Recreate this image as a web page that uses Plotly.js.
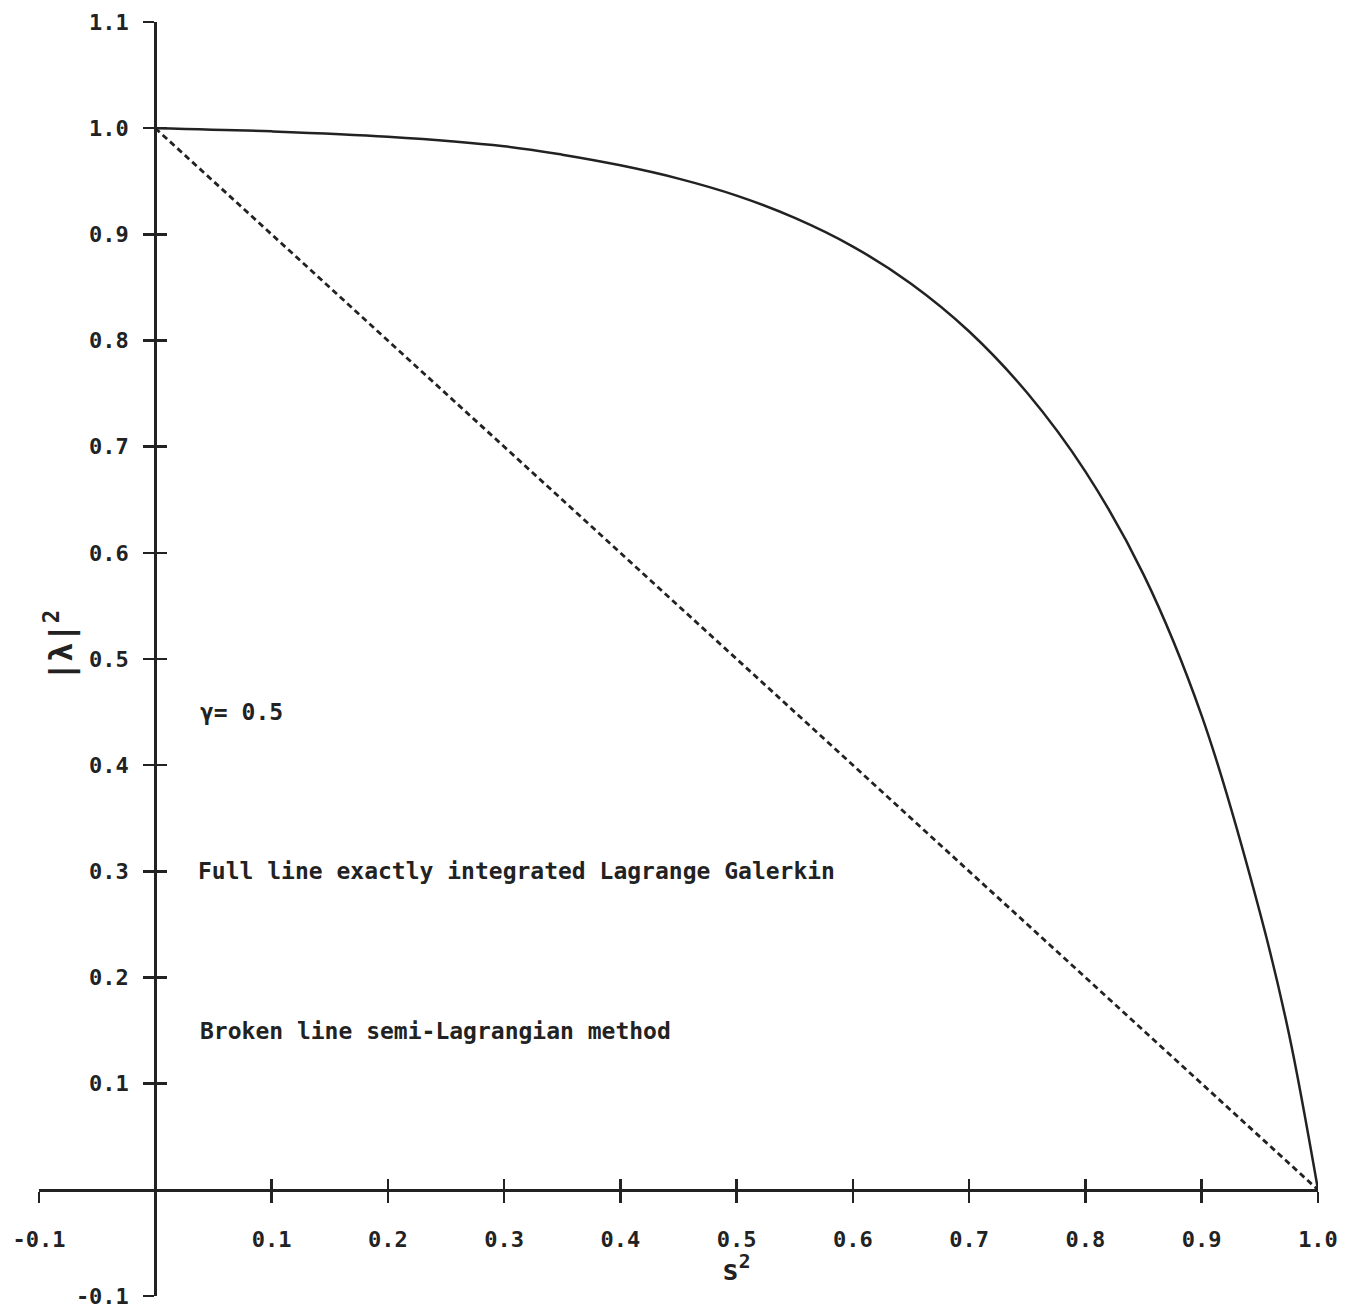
<!DOCTYPE html>
<html>
<head>
<meta charset="utf-8">
<script src="https://cdn.plot.ly/plotly-3.0.1.min.js"></script>
<style>html,body{margin:0;padding:0;background:#fff;}#chart{width:1359px;height:1309px;}</style>
</head>
<body>
<div id="chart"></div>
<script>
// Full line: exactly integrated Lagrange Galerkin
const s2Full  = [0, 0.1, 0.2, 0.3, 0.35, 0.4, 0.45, 0.5, 0.55, 0.6, 0.65, 0.7, 0.75, 0.8, 0.85, 0.9, 0.95, 0.975, 1.0];
const lamFull = [1.0, 0.997, 0.992, 0.983, 0.975, 0.965, 0.9525, 0.9365, 0.9155, 0.8885, 0.8535, 0.8085, 0.7505, 0.6765, 0.5795, 0.4465, 0.2615, 0.147, 0.0];
// Broken line: semi-Lagrangian method
const s2Broken  = [0, 1.0];
const lamBroken = [1.0, 0.0];
// Ticks
const xTickVals = [-0.1, 0.1, 0.2, 0.3, 0.4, 0.5, 0.6, 0.7, 0.8, 0.9, 1.0];
const xTickText = ["-0.1", "0.1", "0.2", "0.3", "0.4", "0.5", "0.6", "0.7", "0.8", "0.9", "1.0"];
const yTickVals = [-0.1, 0.1, 0.2, 0.3, 0.4, 0.5, 0.6, 0.7, 0.8, 0.9, 1.0, 1.1];
const yTickText = ["-0.1", "0.1", "0.2", "0.3", "0.4", "0.5", "0.6", "0.7", "0.8", "0.9", "1.0", "1.1"];
// Texts
const notes = [
  {text: "γ= 0.5", x: 0.037, y: 0.45},
  {text: "Full line exactly integrated Lagrange Galerkin", x: 0.035, y: 0.3},
  {text: "Broken line semi-Lagrangian method", x: 0.037, y: 0.15}
];

const ink = "#222";
const mono = {family: "DejaVu Sans Mono", size: 22, color: ink, weight: "bold"};
const monoNote = {family: "DejaVu Sans Mono", size: 23, color: ink, weight: "bold"};
const xRange = [-0.1, 1.0], yRange = [-0.1, 1.1];
const xPos = (0 - yRange[0]) / (yRange[1] - yRange[0]);
const yPos = (0 - xRange[0]) / (xRange[1] - xRange[0]);

const traces = [
  {x: s2Full, y: lamFull, mode: "lines", line: {color: ink, width: 2.5, shape: "spline", smoothing: 1}, showlegend: false, hoverinfo: "skip"},
  {x: s2Broken, y: lamBroken, mode: "lines", line: {color: ink, width: 2.8, dash: "6px,4px"}, showlegend: false, hoverinfo: "skip"},
  {x: s2Broken, y: lamBroken, xaxis: "x2", yaxis: "y2", mode: "lines", line: {width: 0, color: "rgba(0,0,0,0)"}, showlegend: false, hoverinfo: "skip"}
];

const axBase = {showgrid: false, zeroline: false, tickcolor: ink, tickwidth: 2.5, ticklen: 11};
const layout = {
  width: 1359, height: 1309,
  margin: {l: 39, r: 41, t: 22, b: 13},
  paper_bgcolor: "#fff", plot_bgcolor: "#fff",
  showlegend: false,
  xaxis: Object.assign({}, axBase, {
    range: xRange, anchor: "free", position: xPos, showline: true, linecolor: ink, linewidth: 3,
    ticks: "outside", tickmode: "array", tickvals: xTickVals, ticktext: xTickText,
    tickfont: mono, ticklabelstandoff: 18, automargin: false
  }),
  xaxis2: Object.assign({}, axBase, {
    range: xRange, overlaying: "x", anchor: "free", position: xPos, showline: false,
    ticks: "inside", tickmode: "array", tickvals: xTickVals, showticklabels: false
  }),
  yaxis: Object.assign({}, axBase, {
    range: yRange, anchor: "free", position: yPos, showline: true, linecolor: ink, linewidth: 3,
    ticks: "outside", tickmode: "array", tickvals: yTickVals, ticktext: yTickText,
    tickfont: mono, ticklabelstandoff: 10, automargin: false
  }),
  yaxis2: Object.assign({}, axBase, {
    range: yRange, overlaying: "y", anchor: "free", position: yPos, showline: false,
    ticks: "inside", tickmode: "array", tickvals: yTickVals, showticklabels: false
  }),
  annotations: notes.map(n => ({
    text: n.text, x: n.x, y: n.y, xref: "x", yref: "y",
    xanchor: "left", yanchor: "middle", showarrow: false, font: monoNote
  })).concat([
    {text: "s<sup>2</sup>", x: 0.5, y: -0.074, xref: "x", yref: "y", xanchor: "center", yanchor: "middle",
     showarrow: false, font: {family: "DejaVu Sans Mono", size: 28, color: ink, weight: "bold"}},
    {text: "|λ|<sup>2</sup>", x: -0.083, y: 0.513, xref: "x", yref: "y", xanchor: "center", yanchor: "middle",
     textangle: -90, showarrow: false, font: {family: "DejaVu Sans Mono", size: 32, color: ink, weight: "bold"}}
  ])
};

Plotly.newPlot("chart", traces, layout, {displayModeBar: false, staticPlot: true});
</script>
</body>
</html>
